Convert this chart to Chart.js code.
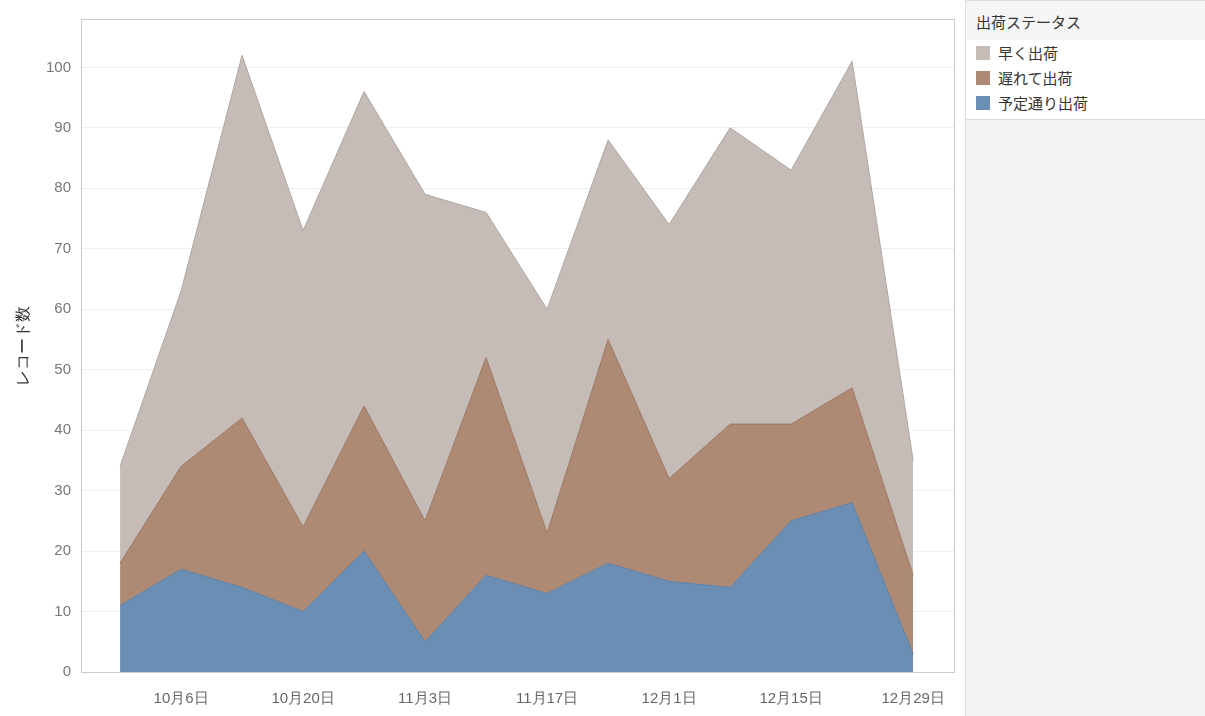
<!DOCTYPE html>
<html><head><meta charset="utf-8">
<script src="https://cdn.jsdelivr.net/npm/chart.js@4"></script>
<style>
body{margin:0;width:1205px;height:716px;background:#fff;font-family:"Noto Sans CJK JP","Noto Sans",sans-serif;overflow:hidden}
#wrap{position:absolute;left:0;top:0;width:960px;height:716px}
#side{position:absolute;left:965px;top:0;width:240px;height:716px;background:#f3f3f3;border-left:1px solid #ddd}
#legend{background:#fff;border:1px solid #ddd;border-left:none;margin-top:0;height:118px}
#legend .t{background:#f5f5f5;padding:10px 10px 8px;font-size:15px;color:#333}
#legend .r{font-size:15px;color:#333;padding:1px 10px;display:flex;align-items:center;height:23px}
#legend .s{width:14px;height:14px;margin-right:8px}
</style></head><body>
<div id="wrap"><canvas id="c" width="960" height="716"></canvas></div>
<div id="side"><div id="legend">
<div class="t">出荷ステータス</div>
<div class="r"><span class="s" style="background:#c6bcb7"></span>早く出荷</div>
<div class="r"><span class="s" style="background:#ae8a75"></span>遅れて出荷</div>
<div class="r"><span class="s" style="background:#6b8fb4"></span>予定通り出荷</div>
</div></div>
<script>
const weeks = ['9月29日','10月6日','10月13日','10月20日','10月27日','11月3日','11月10日','11月17日','11月24日','12月1日','12月8日','12月15日','12月22日','12月29日'];
const onTime = [11, 17, 14, 10, 20, 5, 16, 13, 18, 15, 14, 25, 28, 3];
const late   = [7, 17, 28, 14, 24, 20, 36, 10, 37, 17, 27, 16, 19, 13];
const early  = [16, 29, 60, 49, 52, 54, 24, 37, 33, 42, 49, 42, 54, 19];
const tickIdx = [1, 3, 5, 7, 9, 11, 13];
const yTicks = [0, 10, 20, 30, 40, 50, 60, 70, 80, 90, 100];

const pts = arr => arr.map((v, i) => ({x: i, y: v}));
function ds(label, data, color, line, fill) {
  return {label, data: pts(data), backgroundColor: color, borderColor: line, borderWidth: 1,
          fill, pointRadius: 0, tension: 0};
}
new Chart(document.getElementById('c'), {
  type: 'line',
  data: {datasets: [
    ds('予定通り出荷', onTime, '#6b8fb4', '#5f7fa0', 'origin'),
    ds('遅れて出荷', late, '#ae8a75', '#9a7764', '-1'),
    ds('早く出荷', early, '#c6bcb7', '#b0a6a1', '-1')
  ]},
  options: {
    responsive: false, animation: false,
    layout: {padding: {top: 0, right: 6, bottom: 0, left: 0}},
    plugins: {legend: {display: false}, tooltip: {enabled: false}},
    scales: {
      x: {type: 'linear', min: -0.64, max: 13.67,
          afterBuildTicks: s => { s.ticks = tickIdx.map(v => ({value: v})); },
          afterFit: s => { s.height = 44; },
          ticks: {callback: v => weeks[v], color: '#666', font: {size: 15}, maxRotation: 0, padding: 10, autoSkip: false},
          grid: {display: false}, border: {color: '#ccc'}},
      y: {stacked: true, min: 0, max: 108,
          afterBuildTicks: s => { s.ticks = yTicks.map(v => ({value: v})); },
          afterFit: s => { s.width = 81; },
          ticks: {color: '#777', font: {size: 15}, padding: 10, autoSkip: false},
          grid: {color: '#efefef', drawTicks: false}, border: {color: '#ccc'},
          title: {display: true, text: 'レコード数', color: '#333', font: {size: 16}, padding: {top: 14, bottom: 6}}}
    }
  },
  plugins: [{id: 'frame', afterDraw(ch) {
    const a = ch.chartArea, c = ch.ctx;
    c.save(); c.strokeStyle = '#ccc'; c.strokeRect(a.left + .5, a.top + .5, a.width, a.height); c.restore();
  }}]
});
</script>
</body></html>
